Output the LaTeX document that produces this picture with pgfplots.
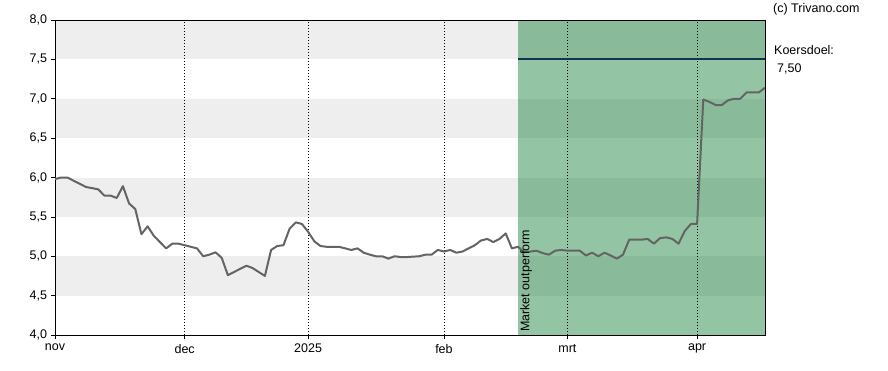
\documentclass[border=0pt]{standalone}
\usepackage{pgfplots}
\pgfplotsset{compat=1.18}
\usepackage{fontspec}
\setmainfont{Liberation Sans}
\definecolor{bandgray}{RGB}{238,238,238}
\definecolor{pricegray}{RGB}{100,100,100}
\definecolor{overgreen}{RGB}{25,130,60}
\definecolor{targetblue}{RGB}{20,50,75}
\begin{document}
\begin{tikzpicture}[font=\fontsize{12.5}{15}\selectfont]
\path (-55pt,-35pt) rectangle (833pt,335pt);
\begin{axis}[
  set layers,
  scale only axis,
  width=710pt, height=315pt,
  at={(0,0)}, anchor=south west,
  xmin=0, xmax=115, ymin=4, ymax=8,
  xtick={0,21,41,63,83,104},
  xticklabels={nov,dec,2025,feb,mrt,apr},
  ytick={4,4.5,5,5.5,6,6.5,7,7.5,8},
  yticklabel style={xshift=-0.5pt,/pgf/number format/.cd,fixed,fixed zerofill,precision=1,use comma,assume math mode=true},
  xmajorgrids,
  major grid style={black, line width=0.7pt, dash pattern=on 1pt off 2pt},
  tick align=outside,
  major tick length=4pt,
  tick style={black, line width=0.7pt},
  axis line style={black, line width=0.9pt},
  xtick pos=bottom, ytick pos=left,
  xticklabel style={yshift=-1.5pt},
]
\begin{pgfonlayer}{axis background}
\fill[bandgray] (axis cs:0,7.5) rectangle (axis cs:115,8);
\fill[bandgray] (axis cs:0,6.5) rectangle (axis cs:115,7);
\fill[bandgray] (axis cs:0,5.5) rectangle (axis cs:115,6);
\fill[bandgray] (axis cs:0,4.5) rectangle (axis cs:115,5);
\fill[overgreen, opacity=0.47] (axis cs:75,4) rectangle (axis cs:115,8);
\end{pgfonlayer}
\addplot[targetblue, line width=2pt] coordinates {(75,7.5) (115,7.5)};
\addplot[pricegray, line width=2pt, line join=round] coordinates {
(0,5.98) (1,6.00) (2,6.00) (4,5.92) (5,5.88) (7,5.85) (8,5.77) (9,5.77) (10,5.74)
(11,5.89) (12,5.67) (13,5.60) (14,5.28) (15,5.38) (16,5.26) (17,5.18) (18,5.10)
(19,5.16) (20,5.16) (21,5.14) (22,5.12) (23,5.10) (24,5.00) (25,5.02) (26,5.05)
(27,4.98) (28,4.76) (29,4.80) (30,4.84) (31,4.88) (32,4.85) (33,4.80) (34,4.75)
(35,5.08) (36,5.13) (37,5.14) (38,5.35) (39,5.43) (40,5.41) (41,5.31) (42,5.19)
(43,5.13) (44,5.12) (46,5.12) (47,5.10) (48,5.08) (49,5.10) (50,5.045) (51,5.02)
(52,5.00) (53,5.00) (54,4.97) (55,5.00) (56,4.99) (57,4.99) (59,5.00) (60,5.02)
(61,5.02) (62,5.08) (63,5.06) (64,5.08) (65,5.045) (66,5.06) (67,5.10) (68,5.14)
(69,5.20) (70,5.22) (71,5.18) (72,5.22) (73,5.29) (74,5.10) (75,5.12) (76,5.05)
(77,5.06) (78,5.07) (79,5.04) (80,5.02) (81,5.07) (82,5.08) (83,5.07) (85,5.07)
(86,5.01) (87,5.045) (88,5.00) (89,5.045) (90,5.01) (91,4.97) (92,5.02) (93,5.21)
(95,5.21) (96,5.22) (97,5.16) (98,5.23) (99,5.24) (100,5.22) (101,5.16) (102,5.32)
(103,5.41) (104,5.41) (105,6.99) (106,6.96) (107,6.92) (108,6.92) (109,6.98)
(110,7.00) (111,7.00) (112,7.08) (114,7.08) (115,7.14)
};
\node[rotate=90, anchor=north west, inner sep=0pt] at ([xshift=2pt,yshift=3pt]axis cs:75,4) {Market outperform};
\end{axis}
\node[anchor=west, inner sep=0pt] at (718pt,326pt) {(c) Trivano.com};
\node[anchor=west, inner sep=0pt] at (719pt,285pt) {Koersdoel:};
\node[anchor=west, inner sep=0pt] at (722pt,266pt) {7,50};
\end{tikzpicture}
\end{document}
